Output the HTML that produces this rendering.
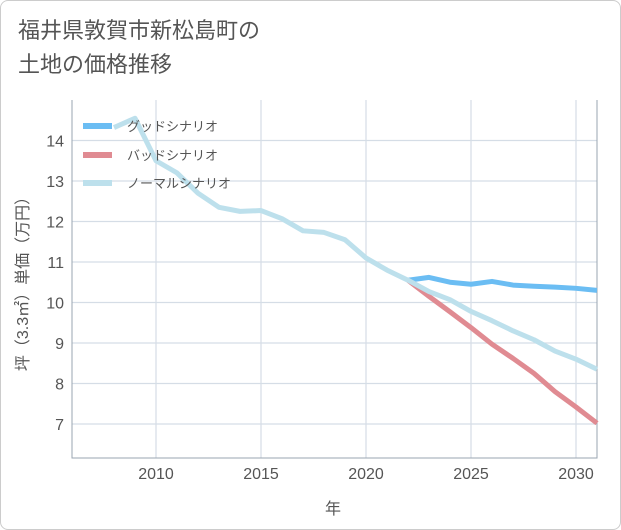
<!DOCTYPE html>
<html><head><meta charset="utf-8"><style>
body{margin:0;background:#fff;font-family:"Liberation Sans","Noto Sans CJK JP",sans-serif}
#card{position:absolute;left:0;top:0;width:619px;height:528px;border:1px solid #ccc;border-radius:8px;background:#fff}
#title{position:absolute;left:18px;top:14px;font-size:22px;line-height:34px;color:#555;font-family:"Liberation Sans","Noto Sans CJK JP",sans-serif}
</style></head><body>
<div id="card"></div>
<div id="title">福井県敦賀市新松島町の<br>土地の価格推移</div>
<svg id="chart" width="621" height="530" style="position:absolute;left:0;top:0"></svg>
<script>
const years=[2008,2009,2010,2011,2012,2013,2014,2015,2016,2017,2018,2019,2020,2021,2022,2023,2024,2025,2026,2027,2028,2029,2030,2031];
const normal=[14.32,14.55,13.5,13.2,12.7,12.35,12.25,12.27,12.07,11.77,11.73,11.55,11.1,10.8,10.55,10.27,10.07,9.78,9.55,9.3,9.08,8.8,8.6,8.35];
const goodYears=[2022,2023,2024,2025,2026,2027,2028,2029,2030,2031];
const good=[10.55,10.62,10.5,10.45,10.52,10.43,10.4,10.38,10.35,10.3];
const badYears=[2022,2023,2024,2025,2026,2027,2028,2029,2030,2031];
const bad=[10.55,10.15,9.77,9.38,8.97,8.62,8.25,7.8,7.42,7.02];
const xTicks=[2010,2015,2020,2025,2030];
const yTicks=[7,8,9,10,11,12,13,14];
const L=72,R=597,T=100,B=458,x0=2006,x1=2031,y0=6.16,y1=15.0;
const X=v=>L+(v-x0)/(x1-x0)*(R-L);
const Y=v=>B-(v-y0)/(y1-y0)*(B-T);
const svg=document.getElementById('chart');
const NS='http://www.w3.org/2000/svg';
function mk(t,a){const e=document.createElementNS(NS,t);for(const k in a)e.setAttribute(k,a[k]);svg.appendChild(e);return e;}
for(const t of xTicks){const g=mk('line',{x1:X(t),x2:X(t),y1:T,y2:B,stroke:'#d5dde6','stroke-width':1.2});


const s=mk('text',{x:X(t),y:479,'text-anchor':'middle','font-size':16,fill:'#555'});s.textContent=t;

}
for(const t of yTicks){const g=mk('line',{x1:L,x2:R,y1:Y(t),y2:Y(t),stroke:'#d5dde6','stroke-width':1.2});


const s=mk('text',{x:64,y:Y(t)+6,'text-anchor':'end','font-size':16,fill:'#555'});s.textContent=t;

}
const ax=mk('polyline',{points:`${L},${T} ${L},${B} ${R},${B} ${R},${T}`,fill:'none',stroke:'#9aa5b1','stroke-width':1});


function line(xs,ys,color,name){const p=mk('polyline',{points:xs.map((x,i)=>X(x)+','+Y(ys[i])).join(' '),fill:'none',stroke:color,'stroke-width':5,'stroke-linejoin':'round'});

}
line(goodYears,good,'#6bbdf3','good-scenario-line');
line(badYears,bad,'#e08b92','bad-scenario-line');
line(years,normal,'#bde0ec','normal-scenario-line');
const leg=[['グッドシナリオ','#6bbdf3',126],['バッドシナリオ','#e08b92',155],['ノーマルシナリオ','#bde0ec',183]];
for(const [n,c,y] of leg){const l=mk('line',{x1:83,x2:112,y1:y,y2:y,stroke:c,'stroke-width':6});


const s=mk('text',{x:127,y:y+5,'font-size':13,fill:'#555'});s.textContent=n;

}
const xt=mk('text',{x:333,y:514,'text-anchor':'middle','font-size':16,fill:'#555'});xt.textContent='年';


const yt=mk('text',{x:0,y:0,'text-anchor':'middle','font-size':16,fill:'#555',transform:'translate(28,280) rotate(-90)'});yt.textContent='坪（3.3㎡）単価（万円）';


</script>
</body></html>
